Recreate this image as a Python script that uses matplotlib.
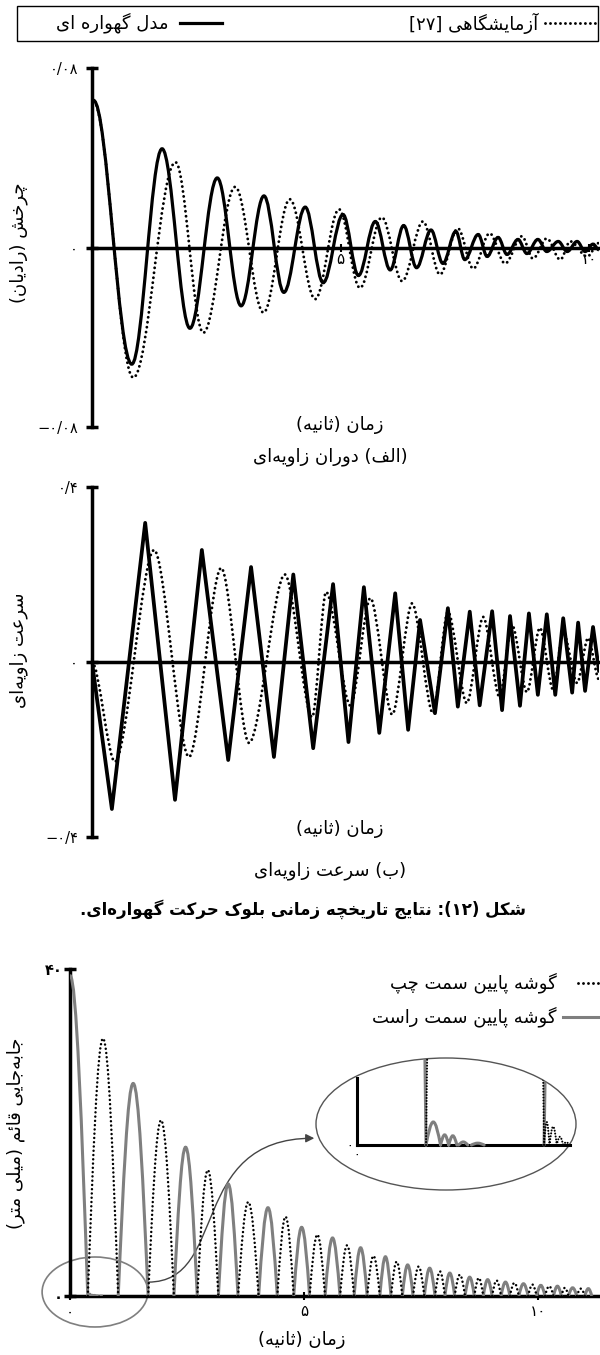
import re
import matplotlib
matplotlib.use('Agg')
import matplotlib.pyplot as plt
from matplotlib.path import Path
from matplotlib.patches import PathPatch, Ellipse, Rectangle, FancyArrowPatch
from matplotlib.lines import Line2D

plt.rcParams['font.family'] = ['DejaVu Sans']

# ---------------- data ----------------
# (a) rotation (rad): extrema
rot_model_t = [0.03, 0.80, 1.41, 1.97, 2.52, 3.00, 3.46, 3.86, 4.29, 4.65, 5.05, 5.36, 5.70, 6.00, 6.27, 6.53,
               6.82, 7.06, 7.32, 7.50, 7.77, 7.95, 8.17, 8.35, 8.57, 8.75, 8.97, 9.15, 9.38, 9.56, 9.76, 9.92,
               10.08, 10.2]
rot_model_v = [0.0656, -0.052, 0.044, -0.036, 0.031, -0.026, 0.023, -0.020, 0.018, -0.0157, 0.0147, -0.0125,
               0.0116, -0.010, 0.0098, -0.009, 0.0078, -0.0071, 0.0072, -0.0054, 0.0058, -0.004, 0.0045,
               -0.0031, 0.0036, -0.0027, 0.0036, -0.0018, 0.0027, -0.0018, 0.0027, -0.0018, 0.0015, -0.001]
rot_exp_t = [0.03, 0.83, 1.68, 2.24, 2.88, 3.45, 3.98, 4.49, 4.97, 5.39, 5.83, 6.24, 6.66, 7.00, 7.36, 7.67,
             8.00, 8.31, 8.65, 8.87, 9.15, 9.42, 9.62, 9.96, 10.2]
rot_exp_v = [0.065, -0.058, 0.038, -0.038, 0.027, -0.029, 0.0215, -0.023, 0.017, -0.018, 0.0134, -0.015,
             0.0116, -0.012, 0.0085, -0.0094, 0.0063, -0.0071, 0.005, -0.0049, 0.004, -0.0054, 0.0027,
             -0.004, 0.002]

# (b) angular velocity
vel_model_t = [0.0, 0.40, 1.07, 1.67, 2.21, 2.74, 3.20, 3.66, 4.05, 4.45, 4.85, 5.16, 5.47, 5.78, 6.10, 6.36,
               6.60, 6.90, 7.16, 7.36, 7.60, 7.80, 8.05, 8.25, 8.41, 8.61, 8.79, 8.97, 9.15, 9.32, 9.48, 9.66,
               9.78, 9.92, 10.08, 10.2]
vel_model_v = [0.0, -0.336, 0.318, -0.315, 0.256, -0.224, 0.217, -0.217, 0.200, -0.197, 0.178, -0.183, 0.171,
               -0.162, 0.157, -0.155, 0.096, -0.117, 0.123, -0.102, 0.115, -0.099, 0.116, -0.110, 0.105,
               -0.100, 0.111, -0.075, 0.109, -0.075, 0.100, -0.070, 0.090, -0.066, 0.080, -0.020]
vel_exp_t = [0.0, 0.46, 1.25, 1.95, 2.60, 3.16, 3.88, 4.43, 4.71, 5.20, 5.60, 6.04, 6.44, 6.86, 7.16, 7.54,
             7.87, 8.20, 8.45, 8.75, 9.01, 9.28, 9.48, 9.76, 9.98, 10.2]
vel_exp_v = [0.0, -0.228, 0.256, -0.217, 0.215, -0.185, 0.200, -0.126, 0.160, -0.100, 0.146, -0.120, 0.134,
             -0.117, 0.115, -0.094, 0.103, -0.080, 0.085, -0.069, 0.078, -0.064, 0.069, -0.048, 0.055, -0.040]

# vertical displacement (mm): uplift arches, alternating right corner / left corner
disp_bounds = [0.0, 0.38, 1.03, 1.67, 2.22, 2.72, 3.17, 3.59, 4.03, 4.43, 4.78, 5.12, 5.45, 5.77, 6.07, 6.35,
               6.62, 6.86, 7.10, 7.33, 7.57, 7.80, 8.01, 8.22, 8.44, 8.64, 8.83, 9.02, 9.21, 9.40, 9.59, 9.79,
               9.97, 10.15, 10.33, 10.50, 10.65, 10.83, 11.00, 11.15]
right_peaks = [39.2, 26.0, 18.2, 13.7, 10.8, 8.4, 7.1, 5.9, 4.8, 3.8, 3.4, 2.8, 2.3, 2.0, 1.7, 1.5, 1.3, 1.2,
               1.0, 0.9]
left_peaks = [31.5, 21.5, 15.4, 11.5, 9.7, 7.5, 6.2, 4.9, 4.2, 3.6, 3.0, 2.6, 2.2, 1.9, 1.6, 1.4, 1.2, 1.0, 0.9]
right_bounce_start = [0.38, 0.46, 0.505, 0.56, 0.63]
right_bounce_end = [0.46, 0.505, 0.55, 0.61, 0.70]
right_bounce_peak = [0.25, 0.11, 0.10, 0.033, 0.02]
left_bounce_start = [1.03, 1.06, 1.10, 1.135]
left_bounce_end = [1.06, 1.10, 1.135, 1.17]
left_bounce_peak = [0.25, 0.20, 0.09, 0.03]

rot_yticks = [-0.08, 0.0, 0.08]
rot_yticklabels = ['\u2212۰/۰۸', '۰', '۰/۰۸']
vel_yticks = [-0.4, 0.0, 0.4]
vel_yticklabels = ['\u2212۰/۴', '۰', '۰/۴']
time_ticks = [0, 5, 10]
time_ticklabels = ['۰', '۵', '۱۰']
disp_yticks = [0, 40]
disp_yticklabels = ['۰', '۴۰']

TXT_EXP = 'آزمایشگاهی [۲۷]'
TXT_MOD = 'مدل گهواره ای'
TXT_Y1 = 'چرخش (رادیان)'
TXT_X = 'زمان (ثانیه)'
TXT_SUB1 = '(الف) دوران زاویه\u200cای'
TXT_Y2 = 'سرعت زاویه\u200cای'
TXT_SUB2 = '(ب) سرعت زاویه\u200cای'
TXT_CAP = 'شکل (۱۲): نتایج تاریخچه زمانی بلوک حرکت گهواره\u200cای.'
TXT_LEFT = 'گوشه پایین سمت چپ'
TXT_RIGHT = 'گوشه پایین سمت راست'
TXT_Y3 = 'جابه\u200cجایی قائم (میلی متر)'

# ---------------- Persian shaping (matplotlib has no complex text layout) ----------------
_F = {
    '\u0621': ('\uFE80',), '\u0622': ('\uFE81', '\uFE82'), '\u0623': ('\uFE83', '\uFE84'),
    '\u0626': ('\uFE89', '\uFE8A', '\uFE8B', '\uFE8C'), '\u0627': ('\uFE8D', '\uFE8E'),
    '\u0628': ('\uFE8F', '\uFE90', '\uFE91', '\uFE92'), '\u0629': ('\uFE93', '\uFE94'),
    '\u062A': ('\uFE95', '\uFE96', '\uFE97', '\uFE98'), '\u062B': ('\uFE99', '\uFE9A', '\uFE9B', '\uFE9C'),
    '\u062C': ('\uFE9D', '\uFE9E', '\uFE9F', '\uFEA0'), '\u062D': ('\uFEA1', '\uFEA2', '\uFEA3', '\uFEA4'),
    '\u062E': ('\uFEA5', '\uFEA6', '\uFEA7', '\uFEA8'), '\u062F': ('\uFEA9', '\uFEAA'),
    '\u0630': ('\uFEAB', '\uFEAC'), '\u0631': ('\uFEAD', '\uFEAE'), '\u0632': ('\uFEAF', '\uFEB0'),
    '\u0633': ('\uFEB1', '\uFEB2', '\uFEB3', '\uFEB4'), '\u0634': ('\uFEB5', '\uFEB6', '\uFEB7', '\uFEB8'),
    '\u0635': ('\uFEB9', '\uFEBA', '\uFEBB', '\uFEBC'), '\u0636': ('\uFEBD', '\uFEBE', '\uFEBF', '\uFEC0'),
    '\u0637': ('\uFEC1', '\uFEC2', '\uFEC3', '\uFEC4'), '\u0638': ('\uFEC5', '\uFEC6', '\uFEC7', '\uFEC8'),
    '\u0639': ('\uFEC9', '\uFECA', '\uFECB', '\uFECC'), '\u063A': ('\uFECD', '\uFECE', '\uFECF', '\uFED0'),
    '\u0641': ('\uFED1', '\uFED2', '\uFED3', '\uFED4'), '\u0642': ('\uFED5', '\uFED6', '\uFED7', '\uFED8'),
    '\u0643': ('\uFED9', '\uFEDA', '\uFEDB', '\uFEDC'), '\u0644': ('\uFEDD', '\uFEDE', '\uFEDF', '\uFEE0'),
    '\u0645': ('\uFEE1', '\uFEE2', '\uFEE3', '\uFEE4'), '\u0646': ('\uFEE5', '\uFEE6', '\uFEE7', '\uFEE8'),
    '\u0647': ('\uFEE9', '\uFEEA', '\uFEEB', '\uFEEC'), '\u0648': ('\uFEED', '\uFEEE'),
    '\u064A': ('\uFEF1', '\uFEF2', '\uFEF3', '\uFEF4'), '\u067E': ('\uFB56', '\uFB57', '\uFB58', '\uFB59'),
    '\u0686': ('\uFB7A', '\uFB7B', '\uFB7C', '\uFB7D'), '\u0698': ('\uFB8A', '\uFB8B'),
    '\u06A9': ('\uFB8E', '\uFB8F', '\uFB90', '\uFB91'), '\u06AF': ('\uFB92', '\uFB93', '\uFB94', '\uFB95'),
    '\u06CC': ('\uFBFC', '\uFBFD', '\uFBFE', '\uFBFF'),
}
_MIR = str.maketrans('()[]', ')(][')
_DIG = '[\u06F0-\u06F90-9]+'


def _shape(s):
    out = []
    for i, ch in enumerate(s):
        f = _F.get(ch)
        if f is None:
            out.append(ch)
            continue
        prev = s[i - 1] if i > 0 else ''
        nxt = s[i + 1] if i + 1 < len(s) else ''
        jp = len(f) > 1 and prev in _F and len(_F[prev]) == 4
        jn = len(f) == 4 and nxt in _F and len(_F[nxt]) > 1
        out.append(f[3] if (jp and jn) else f[1] if jp else f[2] if jn else f[0])
    return ''.join(out).replace('\u200c', '')


def fa(s):
    parts = re.split('(' + _DIG + ')', _shape(s))
    out = []
    for p in reversed(parts):
        out.append(p if re.fullmatch(_DIG, p) else p[::-1].translate(_MIR))
    return ''.join(out)


# ---------------- helpers ----------------
W, H = 600, 1355
fig = plt.figure(figsize=(W / 100, H / 100), dpi=100)


def box(l, t, r, b):
    return [l / W, 1 - b / H, (r - l) / W, (b - t) / H]


def fxy(x, y):
    return (x / W, 1 - y / H)


def smooth_path(t, v, k=0.36):
    verts = [(t[0], v[0])]
    codes = [Path.MOVETO]
    for i in range(len(t) - 1):
        d = t[i + 1] - t[i]
        verts += [(t[i] + k * d, v[i]), (t[i + 1] - k * d, v[i + 1]), (t[i + 1], v[i + 1])]
        codes += [Path.CURVE4] * 3
    return Path(verts, codes)


def arch_path(starts, ends, peaks, first_half=False):
    verts, codes = [], []
    for i, (a, b, v) in enumerate(zip(starts, ends, peaks)):
        if first_half and i == 0:
            d = b - a
            verts += [(a, v), (a + 0.36 * d, v), (a + 0.666 * d, 0.525 * v), (b, 0)]
            codes += [Path.MOVETO] + [Path.CURVE4] * 3
            continue
        m = (a + b) / 2
        d = m - a
        verts += [(a, 0), (a + 0.334 * d, 0.525 * v), (a + 0.64 * d, v), (m, v),
                  (m + 0.36 * d, v), (m + 0.666 * d, 0.525 * v), (b, 0)]
        codes += [Path.MOVETO] + [Path.CURVE4] * 6
    return Path(verts, codes)


DOT = (0, (0.01, 1.7))
SOLID_LW = 2.3
DOT_LW = 2.1
GRAY = '#7f7f7f'
FS = 13
TFS = 10.5


def style_axes(ax, yticks, ylabels, xticks, xlabels, ypad=6):
    for s in ('top', 'right'):
        ax.spines[s].set_visible(False)
    ax.spines['left'].set_linewidth(2.5)
    ax.spines['bottom'].set_position(('data', 0))
    ax.spines['bottom'].set_linewidth(2.5)
    ax.set_yticks(yticks)
    ax.set_yticklabels(ylabels, fontsize=TFS)
    ax.set_xticks(xticks)
    ax.set_xticklabels(xlabels, fontsize=11)
    ax.tick_params(axis='y', direction='inout', length=8, width=2.5, pad=ypad)
    ax.tick_params(axis='x', direction='inout', length=6, width=1.5, pad=0)
    ax.patch.set_visible(False)


# ---------------- top legend ----------------
fig.add_artist(Rectangle(fxy(17, 41), 581 / W, 35 / H, transform=fig.transFigure,
                         fill=False, edgecolor='black', lw=1.0))
fig.add_artist(Line2D([545 / W, 596 / W], [fxy(0, 23)[1]] * 2, transform=fig.transFigure,
                      color='black', lw=DOT_LW, linestyle=DOT, dash_capstyle='round'))
fig.text(*fxy(538, 23), fa(TXT_EXP), ha='right', va='center', fontsize=FS)
fig.add_artist(Line2D([180 / W, 222 / W], [fxy(0, 23)[1]] * 2, transform=fig.transFigure,
                      color='black', lw=SOLID_LW))
fig.text(*fxy(168, 23), fa(TXT_MOD), ha='right', va='center', fontsize=FS)

# ---------------- panel (a) ----------------
ax1 = fig.add_axes(box(92, 68, 599, 427))
ax1.set_xlim(0, 10.2)
ax1.set_ylim(-0.08, 0.08)
style_axes(ax1, rot_yticks, rot_yticklabels, time_ticks, time_ticklabels)
ax1.add_patch(PathPatch(smooth_path(rot_exp_t, rot_exp_v), fill=False, edgecolor='black',
                        lw=DOT_LW, linestyle=DOT, capstyle='round', zorder=3))
ax1.add_patch(PathPatch(smooth_path(rot_model_t, rot_model_v), fill=False, edgecolor='black',
                        lw=SOLID_LW, zorder=4))
fig.text(*fxy(19, 243), fa(TXT_Y1), rotation=90, ha='center', va='center', fontsize=FS)
fig.text(*fxy(340, 425), fa(TXT_X), ha='center', va='center', fontsize=FS)
fig.text(*fxy(330, 457), fa(TXT_SUB1), ha='center', va='center', fontsize=FS)

# ---------------- panel (b) ----------------
ax2 = fig.add_axes(box(92, 487, 599, 837))
ax2.set_xlim(0, 10.2)
ax2.set_ylim(-0.4, 0.4)
style_axes(ax2, vel_yticks, vel_yticklabels, [0], ['۰'])
ax2.add_patch(PathPatch(smooth_path(vel_exp_t, vel_exp_v, k=0.3), fill=False, edgecolor='black',
                        lw=DOT_LW, linestyle=DOT, capstyle='round', zorder=3))
ax2.plot(vel_model_t, vel_model_v, color='black', lw=2.7, zorder=4)
fig.text(*fxy(19, 650), fa(TXT_Y2), rotation=90, ha='center', va='center', fontsize=FS)
fig.text(*fxy(340, 829), fa(TXT_X), ha='center', va='center', fontsize=FS)
fig.text(*fxy(330, 871), fa(TXT_SUB2), ha='center', va='center', fontsize=FS)
fig.text(*fxy(303, 909), fa(TXT_CAP), ha='center', va='center', fontsize=12, fontweight='bold')

# ---------------- panel (c) ----------------
ax3 = fig.add_axes(box(70, 969, 600, 1296))
ax3.set_xlim(0, 530 / 46.8)
ax3.set_ylim(0, 40)
style_axes(ax3, disp_yticks, disp_yticklabels, time_ticks, time_ticklabels, ypad=1)
ax3.tick_params(axis='x', pad=3)
for lab in ax3.get_yticklabels():
    lab.set_fontweight('bold')

right_path = arch_path(disp_bounds[0::2], disp_bounds[1::2], right_peaks, first_half=True)
left_path = arch_path(disp_bounds[1::2], disp_bounds[2::2], left_peaks)
rb_path = arch_path(right_bounce_start, right_bounce_end, right_bounce_peak)
lb_path = arch_path(left_bounce_start, left_bounce_end, left_bounce_peak)

ax3.add_patch(PathPatch(right_path, fill=False, edgecolor=GRAY, lw=2.2, zorder=3))
ax3.add_patch(PathPatch(rb_path, fill=False, edgecolor=GRAY, lw=1.8, zorder=3))
ax3.add_patch(PathPatch(left_path, fill=False, edgecolor='black', lw=1.8, linestyle=DOT,
                        capstyle='round', zorder=4))

# small circle around origin and connector arrow to the zoom ellipse
ax3.add_patch(Ellipse((0.534, 0.49), 2.26, 8.56, fill=False, edgecolor=GRAY, lw=1.2, clip_on=False))
arrow_path = Path([(1.67, 1.7), (3.4, 1.7), (2.5, 19.3), (5.22, 19.3)],
                  [Path.MOVETO, Path.CURVE4, Path.CURVE4, Path.CURVE4])
ax3.add_patch(FancyArrowPatch(path=arrow_path, arrowstyle='-|>,head_length=0.5,head_width=0.25',
                              mutation_scale=10, color='#444444', lw=1.0))

# zoomed inset
axi = fig.add_axes(box(316, 1058, 576, 1190))
axi.set_xlim(-41 / 181.6, 219 / 181.6)
axi.set_ylim(-45 / 92, 87 / 92)
axi.patch.set_visible(False)
ell = Ellipse((0.5, 0.5), 1, 1, transform=axi.transAxes, fill=False, edgecolor='#555555', lw=1.0,
              clip_on=False)
axi.add_patch(ell)
for s in ('top', 'right'):
    axi.spines[s].set_visible(False)
axi.spines['left'].set_position(('data', 0))
axi.spines['bottom'].set_position(('data', 0))
axi.spines['left'].set_bounds(0, 67 / 92)
axi.spines['bottom'].set_bounds(0, 213 / 181.6)
axi.spines['left'].set_linewidth(2.2)
axi.spines['bottom'].set_linewidth(2.2)
axi.set_xticks([0])
axi.set_xticklabels(['۰'], fontsize=9)
axi.set_yticks([0])
axi.set_yticklabels(['۰'], fontsize=9)
axi.tick_params(length=0, pad=3)
for p, c, lw, ls, z in [(right_path, GRAY, 2.2, '-', 3), (rb_path, GRAY, 2.2, '-', 3),
                        (left_path, 'black', 1.5, (0, (0.01, 1.4)), 4),
                        (lb_path, 'black', 1.5, (0, (0.01, 1.4)), 4)]:
    pp = PathPatch(p, fill=False, edgecolor=c, lw=lw, linestyle=ls, capstyle='round', zorder=z)
    axi.add_patch(pp)
    pp.set_clip_path(ell)

# legend (c)
fig.add_artist(Line2D([578 / W, 600 / W], [fxy(0, 983)[1]] * 2, transform=fig.transFigure,
                      color='black', lw=DOT_LW, linestyle=DOT, dash_capstyle='round'))
fig.text(*fxy(557, 983), fa(TXT_LEFT), ha='right', va='center', fontsize=FS)
fig.add_artist(Line2D([563 / W, 600 / W], [fxy(0, 1017)[1]] * 2, transform=fig.transFigure,
                      color=GRAY, lw=2.2))
fig.text(*fxy(557, 1017), fa(TXT_RIGHT), ha='right', va='center', fontsize=FS)

fig.text(*fxy(16, 1133), fa(TXT_Y3), rotation=90, ha='center', va='center', fontsize=FS)
fig.text(*fxy(302, 1340), fa(TXT_X), ha='center', va='center', fontsize=FS)

fig.savefig('out.png', dpi=100)
